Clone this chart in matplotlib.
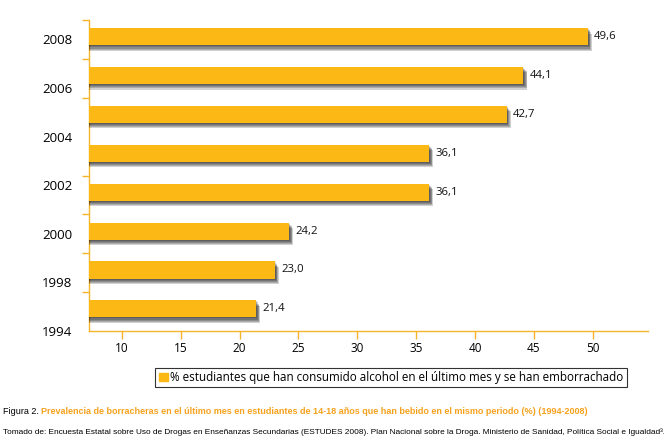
import matplotlib
matplotlib.use("Agg")
import matplotlib.pyplot as plt
import matplotlib.patheffects as pe
from matplotlib.font_manager import fontManager

# datos (de arriba hacia abajo)
valores = [49.6, 44.1, 42.7, 36.1, 36.1, 24.2, 23.0, 21.4]
etiquetas_valor = ["49,6", "44,1", "42,7", "36,1", "36,1", "24,2", "23,0", "21,4"]
anios = ["2008", "2006", "2004", "2002", "2000", "1998", "1994"]
xticks = [10, 15, 20, 25, 30, 35, 40, 45, 50]

NARANJA = "#FCB814"
EJE = "#F5B42A"
TITULO = "#F7A21E"

nombres = {f.name for f in fontManager.ttflist}
estrecha = "Liberation Sans Narrow" if "Liberation Sans Narrow" in nombres else "Liberation Sans"
plt.rcParams['font.family'] = ['Open Sans', 'DejaVu Sans']

fig = plt.figure(figsize=(6.64, 4.43), dpi=100)
ax = fig.add_axes([89 / 664, 1 - 331 / 443, (648 - 89) / 664, (331 - 20) / 443])

pos = list(range(len(valores)))
# sombra difuminada a base de varias capas
sombra = [pe.SimplePatchShadow(offset=(o, -o * 1.3), shadow_rgbFace='black', alpha=0.18)
          for o in (0.6, 1.2, 1.8, 2.4, 3.0)] + [pe.Normal()]
barras = ax.barh([p - 0.07 for p in pos], valores, height=0.44, color=NARANJA, zorder=3)
for b in barras:
    b.set_path_effects(sombra)

for p, v, t in zip(pos, valores, etiquetas_valor):
    ax.annotate(t, xy=(v, p - 0.07), xytext=(4.5, 0), textcoords='offset points',
                va='center', ha='left', fontsize=8.2, color='#111111')

ax.set_xlim(7.2, 54.7)
ax.set_ylim(len(valores) - 0.5, -0.5)

# etiquetas de años repartidas a lo largo del eje
paso = (len(valores) - 0.5) / (len(anios) - 1)
ax.set_yticks([i * paso for i in range(len(anios))])
ax.set_yticklabels(anios, fontsize=9.5)
ax.tick_params(axis='y', which='major', length=0, pad=12)
ax.set_yticks([p + 0.5 for p in range(-1, len(valores))], minor=True)
ax.tick_params(axis='y', which='minor', length=5, width=1, color=EJE, direction='out')

ax.set_xticks(xticks)
ax.set_xticklabels([str(x) for x in xticks], fontsize=8.5)
ax.tick_params(axis='x', length=6, width=1, color=EJE, pad=2)

for s in ('top', 'right'):
    ax.spines[s].set_visible(False)
for s in ('left', 'bottom'):
    ax.spines[s].set_color(EJE)
    ax.spines[s].set_linewidth(1)

h = plt.Rectangle((0, 0), 1, 1, color=NARANJA)
leg = fig.legend([h], ["% estudiantes que han consumido alcohol en el último mes y se han emborrachado"],
                 loc='center', bbox_to_anchor=(391 / 664, 1 - 377.5 / 443), fontsize=8.35,
                 frameon=True, fancybox=False, edgecolor='black', handlelength=0.75,
                 handleheight=0.75, handletextpad=0.2, borderpad=0.3, borderaxespad=0)
leg.get_frame().set_linewidth(0.8)

t1 = fig.text(3 / 664, 1 - 411 / 443, "Figura 2. ", fontsize=8, family=estrecha, va='center')
t2 = ax.annotate("Prevalencia de borracheras en el último mes en estudiantes de 14-18 años que han bebido en el mismo periodo (%) (1994-2008)",
                 xy=(1, 0.5), xycoords=t1, va='center', ha='left', fontsize=8, family=estrecha,
                 fontweight='bold', color=TITULO, annotation_clip=False)
t3 = fig.text(3 / 664, 1 - 432 / 443,
              "Tomado de: Encuesta Estatal sobre Uso de Drogas en Enseñanzas Secundarias (ESTUDES 2008). Plan Nacional sobre la Droga. Ministerio de Sanidad, Política Social e Igualdad³.",
              fontsize=7, family=estrecha, va='center')

# ajustar el pie al ancho del original
fig.canvas.draw()
r = fig.canvas.get_renderer()
ancho1 = t2.get_window_extent(r).x1 - t1.get_window_extent(r).x0
f1 = 8 * (588 - 3) / ancho1
t1.set_fontsize(f1)
t2.set_fontsize(f1)
ancho3 = t3.get_window_extent(r).width
t3.set_fontsize(7 * (660 - 3) / ancho3)

fig.savefig("out.png", dpi=100)
